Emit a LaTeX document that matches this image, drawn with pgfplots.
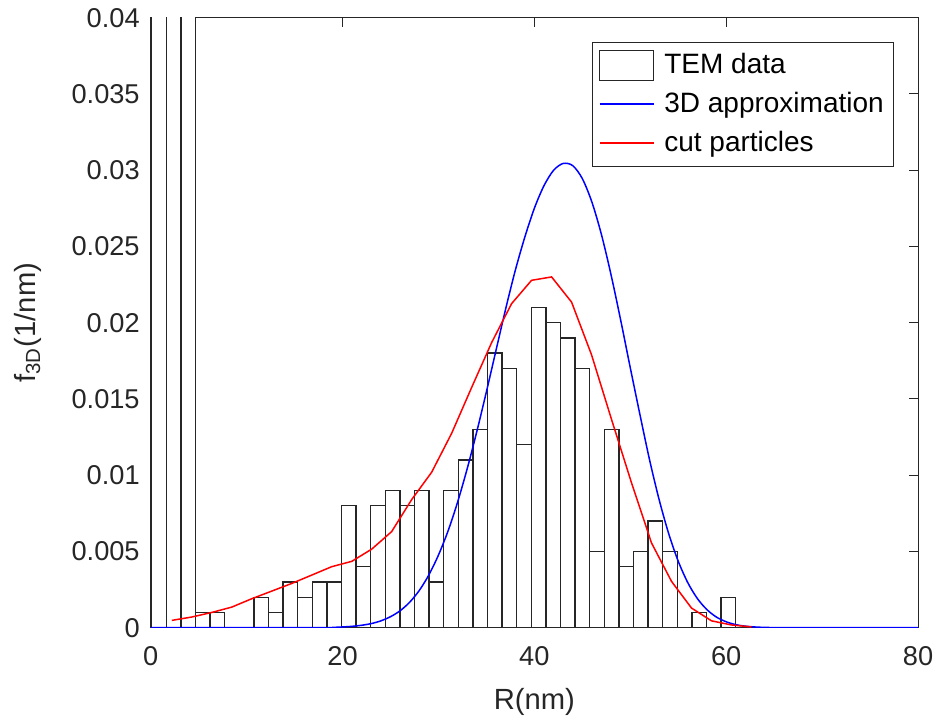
\documentclass[border=0pt]{standalone}
\usepackage{fontspec}
\setmainfont{Liberation Sans}
\usepackage{pgfplots}
\pgfplotsset{compat=1.18}
\usepackage{pgfplotstable}
\definecolor{mgray}{RGB}{38,38,38}

\pgfplotstableread{
x y
0.100 0.08
1.623 0.08
3.145 0.08
4.668 0.001
6.190 0.001
7.713 0
9.235 0
10.758 0.002
12.280 0.001
13.803 0.003
15.325 0.002
16.848 0.003
18.370 0.003
19.893 0.008
21.415 0.004
22.938 0.008
24.460 0.009
25.983 0.008
27.505 0.009
29.028 0.003
30.550 0.009
32.073 0.011
33.595 0.013
35.118 0.018
36.640 0.017
38.163 0.012
39.685 0.021
41.208 0.020
42.730 0.019
44.253 0.017
45.775 0.005
47.298 0.013
48.820 0.004
50.343 0.005
51.865 0.007
53.388 0.005
54.910 0
56.433 0.001
57.955 0
59.478 0.002
61.000 0
}\histdata

\pgfplotstableread{
x y
0 0
10 0
18 0
19 0.00002
20 0.00005
21 0.00009
22 0.00016
23 0.00027
24 0.00045
25 0.00072
26 0.00111
27 0.00167
28 0.00244
29 0.00346
30 0.00476
31 0.00634
32 0.00824
33 0.01043
34 0.01286
35 0.01547
36 0.01818
37 0.02088
38 0.02340
39 0.02560
40 0.02750
41 0.02898
42 0.02999
43 0.03044
44 0.03030
45 0.02945
46 0.02791
47 0.02577
48 0.02313
49 0.02017
50 0.01705
51 0.01400
52 0.01104
53 0.00842
54 0.00618
55 0.00436
56 0.00295
57 0.00191
58 0.00118
59 0.00069
60 0.00039
61 0.00020
62 0.00010
63 0.000047
64 0.00002
65 0.000008
66 0
70 0
80 0
}\bluedata

\pgfplotstableread{
x y
2.20 0.00048
4.28 0.00070
6.37 0.00100
8.45 0.00135
10.54 0.00190
12.62 0.00240
14.70 0.00290
16.79 0.00345
18.87 0.00400
20.96 0.00435
23.04 0.00515
25.12 0.00630
27.21 0.00840
29.30 0.01020
31.38 0.01275
33.46 0.01575
35.55 0.01870
37.63 0.02125
39.71 0.02278
41.80 0.02300
43.88 0.02135
45.96 0.01790
48.05 0.01365
50.13 0.00950
52.22 0.00555
54.30 0.00304
56.38 0.00129
58.47 0.00045
60.55 0.00018
62.64 0.00005
}\reddata

\begin{document}
\begin{tikzpicture}
\begin{axis}[
  name=ax, at={(0,0)}, anchor=south west,
  width=383.65pt, height=305pt, scale only axis,
  xmin=0, xmax=80, ymin=0, ymax=0.04,
  xtick={0,20,40,60,80},
  ytick={0,0.005,0.01,0.015,0.02,0.025,0.03,0.035,0.04},
  scaled y ticks=false,
  yticklabel style={/pgf/number format/fixed, /pgf/number format/precision=3, xshift=-2pt},
  xticklabel style={yshift=-6pt},
  /pgf/number format/assume math mode=true,
  tick align=inside, major tick length=4.5pt,
  axis line style={draw=mgray, line width=0.5pt},
  every tick/.style={draw=mgray, line width=0.5pt},
  tick label style={font=\fontsize{13.6}{16}\selectfont, text=mgray},
  xlabel={R(nm)},
  ylabel={f\textsubscript{3D}(1/nm)},
  label style={font=\fontsize{14.6}{17}\selectfont, text=mgray},
  xlabel style={at={(axis description cs:0.5,0)}, anchor=north, yshift=-27pt},
  ylabel style={at={(axis description cs:-0.1595,0.5)}, anchor=center},
  legend style={at={(rel axis cs:1,1)}, anchor=north east, xshift=-11.85pt, yshift=-12pt,
    draw=mgray, line width=0.5pt, font=\fontsize{14}{17}\selectfont, text=black,
    inner xsep=3pt, inner ysep=3.75pt, column sep=3pt, row sep=3.75pt},
  legend cell align=left,
  legend image code/.code={\draw[#1] (0pt,0pt) -- (27pt,0pt);},
]
\addplot[ybar interval, fill=white, draw=mgray, line width=0.7pt,
  legend image code/.code={\draw[draw=mgray, line width=0.6pt, fill=white] (0pt,-7.5pt) rectangle (27pt,7.5pt);}]
  table[x=x, y=y] {\histdata};
\addlegendentry{TEM data}
\addplot[blue, line width=0.75pt, smooth, mark=none] table[x=x, y=y] {\bluedata};
\addlegendentry{3D approximation}
\addplot[red, line width=0.75pt, mark=none] table[x=x, y=y] {\reddata};
\addlegendentry{cut particles}
\end{axis}
\pgfresetboundingbox
\path[use as bounding box] ([shift={(-75.35pt,-49.15pt)}]ax.south west) rectangle ([shift={(10.5pt,8.85pt)}]ax.north east);
\end{tikzpicture}
\end{document}
